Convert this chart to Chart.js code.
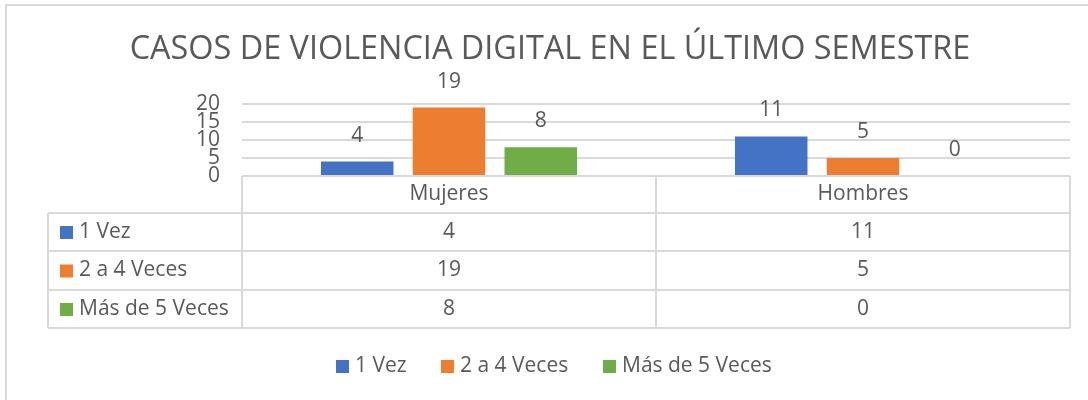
<!DOCTYPE html>
<html>
<head>
<meta charset="utf-8">
<script src="https://cdn.jsdelivr.net/npm/chart.js@4/dist/chart.umd.min.js"></script>
<style>
  html, body { margin: 0; padding: 0; background: #fff; }
  #wrap { width: 1088px; height: 400px; }
</style>
</head>
<body>
<div id="wrap"><canvas id="chart" width="1088" height="400"></canvas></div>
<script>
// Chart data
const categories = ['Mujeres', 'Hombres'];
const seriesNames = ['1 Vez', '2 a 4 Veces', 'Más de 5 Veces'];
const unaVez = [4, 11];
const dosACuatro = [19, 5];
const masDeCinco = [8, 0];
const yTicks = [0, 5, 10, 15, 20];
const chartTitle = 'CASOS DE VIOLENCIA DIGITAL EN EL ÚLTIMO SEMESTRE';

const colors = ['#4472C4', '#ED7D31', '#70AD47'];
const textColor = '#595959';
const lineColor = '#d9d9d9';
const fontFamily = "'Open Sans', sans-serif";
const fontSize = 21;

// Table row geometry (below the plot)
const tableLeft = 48;
const rowEdges = [176, 213, 251, 290, 328];

const extrasPlugin = {
    id: 'extras',
    beforeDraw(chart) {
        const ctx = chart.ctx;
        ctx.save();
        ctx.fillStyle = '#fff';
        ctx.fillRect(0, 0, chart.width, chart.height);
        // outer frame
        ctx.strokeStyle = lineColor;
        ctx.lineWidth = 2;
        ctx.beginPath();
        ctx.moveTo(6, chart.height);
        ctx.lineTo(6, 5);
        ctx.lineTo(chart.width, 5);
        ctx.stroke();
        ctx.restore();
    },
    afterDraw(chart) {
        const ctx = chart.ctx;
        const area = chart.chartArea;
        const x = chart.scales.x;
        const all = [unaVez, dosACuatro, masDeCinco];

        ctx.save();
        ctx.fillStyle = textColor;
        ctx.textAlign = 'center';
        ctx.textBaseline = 'middle';

        // title
        ctx.font = '32.4px ' + fontFamily;
        ctx.fillText(chartTitle, 550, 50);

        // data labels above bars
        ctx.font = fontSize + 'px ' + fontFamily;
        all.forEach((vals, i) => {
            const meta = chart.getDatasetMeta(i);
            meta.data.forEach((bar, j) => {
                ctx.fillText(String(vals[j]), bar.x, bar.y - 26);
            });
        });

        // data table
        const mid = (x.getPixelForValue(0) + x.getPixelForValue(1)) / 2;
        const colEdges = [area.left, mid, area.right];
        ctx.strokeStyle = lineColor;
        ctx.lineWidth = 2;
        ctx.beginPath();
        ctx.moveTo(area.left, rowEdges[0]);
        ctx.lineTo(area.right, rowEdges[0]);
        for (let r = 1; r < rowEdges.length; r++) {
            ctx.moveTo(tableLeft, rowEdges[r]);
            ctx.lineTo(area.right, rowEdges[r]);
        }
        colEdges.forEach(cx => {
            ctx.moveTo(cx, rowEdges[0]);
            ctx.lineTo(cx, rowEdges[rowEdges.length - 1]);
        });
        ctx.moveTo(tableLeft, rowEdges[1]);
        ctx.lineTo(tableLeft, rowEdges[rowEdges.length - 1]);
        ctx.stroke();

        // header labels
        categories.forEach((c, j) => {
            const cx = (colEdges[j] + colEdges[j + 1]) / 2;
            ctx.fillText(c, cx, (rowEdges[0] + rowEdges[1]) / 2);
        });
        // rows
        all.forEach((vals, i) => {
            const cy = (rowEdges[i + 1] + rowEdges[i + 2]) / 2;
            ctx.fillStyle = colors[i];
            ctx.fillRect(60, cy - 6, 13, 13);
            ctx.fillStyle = textColor;
            ctx.textAlign = 'left';
            ctx.fillText(seriesNames[i], 79, cy);
            ctx.textAlign = 'center';
            vals.forEach((v, j) => {
                const cx = (colEdges[j] + colEdges[j + 1]) / 2;
                ctx.fillText(String(v), cx, cy);
            });
        });

        // bottom legend
        const legendX = [336, 441, 603];
        const legendY = 366;
        ctx.textAlign = 'left';
        seriesNames.forEach((name, i) => {
            ctx.fillStyle = colors[i];
            ctx.fillRect(legendX[i], legendY - 6, 13, 13);
            ctx.fillStyle = textColor;
            ctx.fillText(name, legendX[i] + 19, legendY);
        });
        ctx.restore();
    }
};

new Chart(document.getElementById('chart').getContext('2d'), {
    type: 'bar',
    data: {
        labels: categories,
        datasets: [
            { label: seriesNames[0], data: unaVez, backgroundColor: colors[0] },
            { label: seriesNames[1], data: dosACuatro, backgroundColor: colors[1] },
            { label: seriesNames[2], data: masDeCinco, backgroundColor: colors[2] }
        ]
    },
    options: {
        responsive: false,
        animation: false,
        layout: { padding: { left: 0, right: 18, top: 104, bottom: 224 } },
        datasets: {
            bar: { categoryPercentage: 0.665, barPercentage: 0.79 }
        },
        plugins: {
            legend: { display: false },
            title: { display: false },
            tooltip: { enabled: false }
        },
        scales: {
            x: { display: false },
            y: {
                min: 0,
                max: 20,
                afterBuildTicks: (s) => { s.ticks = yTicks.map(v => ({ value: v })); },
                afterFit: (s) => { s.width = 242; },
                border: { display: false },
                grid: { color: lineColor, lineWidth: 2, drawTicks: false },
                ticks: {
                    autoSkip: false,
                    padding: 22,
                    color: textColor,
                    font: { size: fontSize, family: fontFamily }
                }
            }
        }
    },
    plugins: [extrasPlugin]
});
</script>
</body>
</html>
